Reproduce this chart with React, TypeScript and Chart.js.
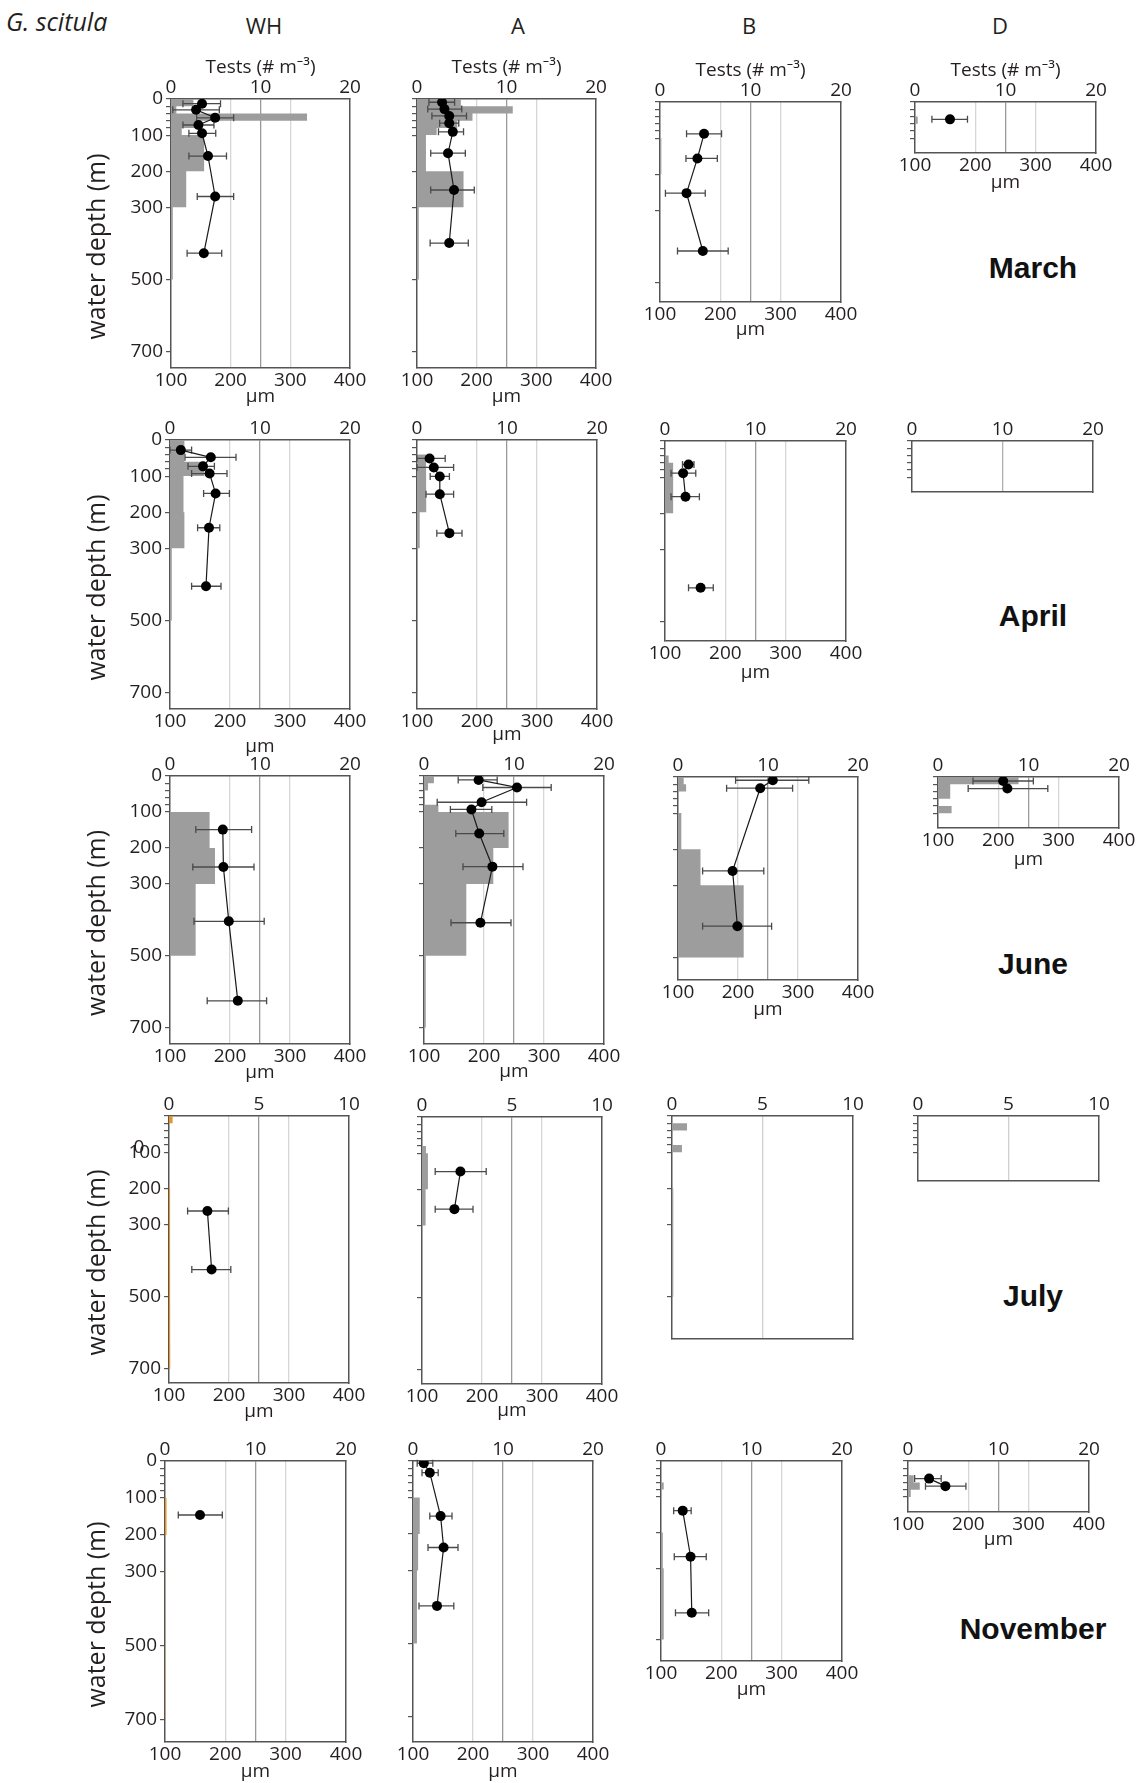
import React, { useEffect, useRef } from "react";
import { Chart, registerables } from "chart.js";

Chart.register(...registerables);

const FONT = "'Open Sans', 'Noto Sans', 'DejaVu Sans', sans-serif";
const BOLD_FONT = "'Liberation Sans', Arial, sans-serif";
const INK = "#231f20";
const FRAME = "#555555";
const GREY_BAR = "#9d9d9d";
const ORANGE_BAR = "#e0952f";

// ---- shared axes / categories ----
const DEPTH_EDGES = [0, 20, 40, 60, 80, 100, 200, 300, 500, 700];
const DEPTH_TICKS = [0, 20, 40, 60, 80, 100, 200, 300, 500, 700];
const DEPTH_LABELS = [0, 100, 200, 300, 500, 700];
const SIZE_TICKS = [100, 200, 300, 400];
const STATIONS = ["WH", "A", "B", "D"];
const MONTHS = ["March", "April", "June", "July", "November"];
const TESTS_MAX = [20, 20, 20, 10, 20];

// ---- March ----
const MAR_WH_TESTS = [2.5, 0.6, 15.2, 3.3, 1.2, 3.7, 1.7, 0.2, 0];
const MAR_WH_DEPTH = [13, 30, 52, 72, 95, 158, 270, 427];
const MAR_WH_SIZE = [152, 142, 174, 146, 152, 162, 174, 155];
const MAR_WH_LO = [120, 103, 143, 120, 130, 130, 144, 127];
const MAR_WH_HI = [183, 181, 205, 172, 175, 193, 205, 185];

const MAR_A_TESTS = [4.9, 10.7, 6.2, 4.5, 2.2, 1.0, 5.2, 0.2, 0];
const MAR_A_DEPTH = [9, 28, 47, 67, 91, 150, 252, 399];
const MAR_A_SIZE = [142, 146, 154, 154, 160, 152, 162, 154];
const MAR_A_LO = [120, 118, 125, 138, 136, 123, 123, 122];
const MAR_A_HI = [163, 175, 183, 170, 178, 181, 196, 186];

const MAR_B_TESTS = [0, 0, 0, 0, 0, 0.15, 0, 0, 0];
const MAR_B_DEPTH = [88, 156, 252, 412];
const MAR_B_SIZE = [173, 162, 144, 171];
const MAR_B_LO = [144, 143, 109, 129];
const MAR_B_HI = [202, 195, 175, 213];

const MAR_D_TESTS = [0, 0, 0.3, 0, 0, 0, 0, 0, 0];
const MAR_D_DEPTH = [48];
const MAR_D_SIZE = [158];
const MAR_D_LO = [128];
const MAR_D_HI = [187];

// ---- April ----
const APR_WH_TESTS = [1.6, 1.6, 1.6, 3.8, 3.8, 1.5, 1.6, 0.2, 0];
const APR_WH_DEPTH = [28, 48, 73, 93, 148, 243, 405];
const APR_WH_SIZE = [118, 168, 155, 166, 176, 165, 160];
const APR_WH_LO = [100, 125, 130, 136, 156, 146, 136];
const APR_WH_HI = [136, 210, 174, 195, 199, 183, 185];

const APR_A_TESTS = [0, 0, 1.0, 1.0, 1.0, 1.1, 0.3, 0.1, 0.1];
const APR_A_DEPTH = [51, 76, 101, 150, 258];
const APR_A_SIZE = [121, 128, 138, 138, 154];
const APR_A_LO = [100, 100, 122, 115, 133];
const APR_A_HI = [147, 161, 154, 161, 175];

const APR_B_TESTS = [0, 0, 0.4, 0.9, 0.9, 0.9, 0, 0.1, 0];
const APR_B_DEPTH = [65, 89, 154, 406];
const APR_B_SIZE = [139, 130, 134, 159];
const APR_B_LO = [129, 110, 110, 139];
const APR_B_HI = [148, 151, 157, 180];

const APR_D_TESTS = [0, 0, 0, 0, 0, 0, 0, 0, 0];
const APR_D_DEPTH: number[] = [];
const APR_D_SIZE: number[] = [];
const APR_D_LO: number[] = [];
const APR_D_HI: number[] = [];

// ---- June ----
const JUN_WH_TESTS = [0, 0, 0, 0, 0, 4.4, 5.0, 2.85, 0];
const JUN_WH_DEPTH = [149, 253, 404, 625];
const JUN_WH_SIZE = [188, 189, 198, 213];
const JUN_WH_LO = [143, 138, 140, 162];
const JUN_WH_HI = [236, 240, 257, 261];

const JUN_A_TESTS = [1.1, 0.45, 0.1, 0.1, 1.6, 9.4, 7.7, 4.7, 0.2];
const JUN_A_DEPTH = [11, 32, 73, 93, 160, 252, 408];
const JUN_A_SIZE = [191, 255, 196, 179, 192, 214, 194];
const JUN_A_LO = [157, 198, 122, 144, 153, 165, 145];
const JUN_A_HI = [222, 312, 271, 213, 233, 265, 245];

const JUN_B_TESTS = [0.63, 0.9, 0, 0, 0, 0.37, 2.5, 7.3, 0];
const JUN_B_DEPTH = [9, 31, 260, 413];
const JUN_B_SIZE = [258, 237, 191, 199];
const JUN_B_LO = [196, 181, 141, 141];
const JUN_B_HI = [318, 291, 243, 256];

const JUN_D_TESTS = [8.9, 1.35, 1.35, 0, 1.5, 0, 0, 0, 0];
const JUN_D_DEPTH = [11, 32];
const JUN_D_SIZE = [208, 215];
const JUN_D_LO = [158, 150];
const JUN_D_HI = [258, 282];

// ---- July ----
const JUL_WH_TESTS = [0.2, 0, 0, 0, 0, 0, 0.06, 0.06, 0.08];
const JUL_WH_DEPTH = [263, 425];
const JUL_WH_SIZE = [164, 171];
const JUL_WH_LO = [131, 138];
const JUL_WH_HI = [199, 203];

const JUL_A_TESTS = [0, 0, 0, 0, 0.22, 0.33, 0.2, 0, 0];
const JUL_A_DEPTH = [151, 255];
const JUL_A_SIZE = [164, 154];
const JUL_A_LO = [122, 122];
const JUL_A_HI = [207, 185];

const JUL_B_TESTS = [0, 0.83, 0, 0, 0.55, 0, 0.07, 0.07, 0];
const JUL_B_DEPTH: number[] = [];
const JUL_B_SIZE: number[] = [];
const JUL_B_LO: number[] = [];
const JUL_B_HI: number[] = [];

const JUL_D_TESTS = [0, 0, 0, 0, 0, 0, 0, 0, 0];
const JUL_D_DEPTH: number[] = [];
const JUL_D_SIZE: number[] = [];
const JUL_D_LO: number[] = [];
const JUL_D_HI: number[] = [];

// ---- November ----
const NOV_WH_TESTS = [0, 0, 0, 0, 0, 0.17, 0, 0.1, 0];
const NOV_WH_DEPTH = [146];
const NOV_WH_SIZE = [158];
const NOV_WH_LO = [122];
const NOV_WH_HI = [195];

const NOV_A_TESTS = [0, 0, 0, 0, 0, 0.75, 0.57, 0.44, 0];
const NOV_A_DEPTH = [6, 32, 151, 237, 397];
const NOV_A_SIZE = [118, 128, 146, 151, 140];
const NOV_A_LO = [107, 115, 128, 125, 110];
const NOV_A_HI = [133, 142, 165, 175, 168];

const NOV_B_TESTS = [0, 0, 0, 0.3, 0, 0, 0.2, 0.3, 0];
const NOV_B_DEPTH = [139, 268, 425];
const NOV_B_SIZE = [136, 149, 151];
const NOV_B_LO = [121, 122, 124];
const NOV_B_HI = [150, 175, 179];

const NOV_D_TESTS = [0, 0, 0.63, 1.3, 0.3, 0, 0, 0, 0];
const NOV_D_DEPTH = [49, 70];
const NOV_D_SIZE = [135, 162];
const NOV_D_LO = [111, 129];
const NOV_D_HI = [155, 196];

type Series = {
  tests: number[];
  depth: number[];
  size: number[];
  lo: number[];
  hi: number[];
  breakAfter?: number;
  color?: string;
};

const SERIES: Series[][] = [
  [
    { tests: MAR_WH_TESTS, depth: MAR_WH_DEPTH, size: MAR_WH_SIZE, lo: MAR_WH_LO, hi: MAR_WH_HI },
    { tests: MAR_A_TESTS, depth: MAR_A_DEPTH, size: MAR_A_SIZE, lo: MAR_A_LO, hi: MAR_A_HI },
    { tests: MAR_B_TESTS, depth: MAR_B_DEPTH, size: MAR_B_SIZE, lo: MAR_B_LO, hi: MAR_B_HI },
    { tests: MAR_D_TESTS, depth: MAR_D_DEPTH, size: MAR_D_SIZE, lo: MAR_D_LO, hi: MAR_D_HI },
  ],
  [
    { tests: APR_WH_TESTS, depth: APR_WH_DEPTH, size: APR_WH_SIZE, lo: APR_WH_LO, hi: APR_WH_HI },
    { tests: APR_A_TESTS, depth: APR_A_DEPTH, size: APR_A_SIZE, lo: APR_A_LO, hi: APR_A_HI },
    { tests: APR_B_TESTS, depth: APR_B_DEPTH, size: APR_B_SIZE, lo: APR_B_LO, hi: APR_B_HI, breakAfter: 2 },
    { tests: APR_D_TESTS, depth: APR_D_DEPTH, size: APR_D_SIZE, lo: APR_D_LO, hi: APR_D_HI },
  ],
  [
    { tests: JUN_WH_TESTS, depth: JUN_WH_DEPTH, size: JUN_WH_SIZE, lo: JUN_WH_LO, hi: JUN_WH_HI },
    { tests: JUN_A_TESTS, depth: JUN_A_DEPTH, size: JUN_A_SIZE, lo: JUN_A_LO, hi: JUN_A_HI },
    { tests: JUN_B_TESTS, depth: JUN_B_DEPTH, size: JUN_B_SIZE, lo: JUN_B_LO, hi: JUN_B_HI },
    { tests: JUN_D_TESTS, depth: JUN_D_DEPTH, size: JUN_D_SIZE, lo: JUN_D_LO, hi: JUN_D_HI },
  ],
  [
    { tests: JUL_WH_TESTS, depth: JUL_WH_DEPTH, size: JUL_WH_SIZE, lo: JUL_WH_LO, hi: JUL_WH_HI, color: ORANGE_BAR },
    { tests: JUL_A_TESTS, depth: JUL_A_DEPTH, size: JUL_A_SIZE, lo: JUL_A_LO, hi: JUL_A_HI },
    { tests: JUL_B_TESTS, depth: JUL_B_DEPTH, size: JUL_B_SIZE, lo: JUL_B_LO, hi: JUL_B_HI },
    { tests: JUL_D_TESTS, depth: JUL_D_DEPTH, size: JUL_D_SIZE, lo: JUL_D_LO, hi: JUL_D_HI },
  ],
  [
    { tests: NOV_WH_TESTS, depth: NOV_WH_DEPTH, size: NOV_WH_SIZE, lo: NOV_WH_LO, hi: NOV_WH_HI, color: ORANGE_BAR },
    { tests: NOV_A_TESTS, depth: NOV_A_DEPTH, size: NOV_A_SIZE, lo: NOV_A_LO, hi: NOV_A_HI },
    { tests: NOV_B_TESTS, depth: NOV_B_DEPTH, size: NOV_B_SIZE, lo: NOV_B_LO, hi: NOV_B_HI },
    { tests: NOV_D_TESTS, depth: NOV_D_DEPTH, size: NOV_D_SIZE, lo: NOV_D_LO, hi: NOV_D_HI },
  ],
];

// ---- layout (page pixels): [plotLeft, plotTop, plotWidth, plotHeight, depthMax, topAxisBox, bottomAxisBox]
const FRAMES: number[][][] = [
  [[171, 99, 179, 269, 745, 43, 40], [417, 99, 179, 269, 745, 43, 40], [660, 102, 181, 200, 553, 43, 39], [915, 102, 181, 51, 141, 43, 41]],
  [[170, 440, 180, 269, 745, 28, 49], [417, 440, 180, 269, 745, 28, 37], [665, 441, 181, 200, 553, 28, 43], [912, 441, 181, 51, 141, 28, 4]],
  [[170, 776, 180, 268, 745, 28, 40], [424, 776, 180, 268, 745, 28, 39], [678, 777, 180, 203, 562, 28, 41], [938, 777, 181, 51, 141, 28, 43]],
  [[169, 1116, 180, 267, 739, 28, 40], [422, 1117, 180, 267, 739, 28, 38], [672, 1116, 181, 223, 617, 28, 4], [918, 1116, 181, 65, 180, 28, 4]],
  [[165, 1461, 181, 281, 760, 28, 41], [413, 1461, 180, 281, 770, 28, 41], [661, 1461, 181, 200, 560, 28, 40], [908, 1461, 181, 51, 142, 28, 39]],
];
const HEADER_X = [264, 518, 749, 1000];
const MONTH_Y = [267, 615, 963, 1295, 1628];
const YTITLE_X = 98;
const PAD = 24;
const TICK_SIZE = 19;
const YTITLE_SIZE = 25;

function Panel({ row, col }: { row: number; col: number }) {
  const ref = useRef<HTMLCanvasElement | null>(null);
  const s = SERIES[row][col];
  const [left, top, w, h, depthMax, T, B] = FRAMES[row][col];
  const L = col === 0 ? Math.round(left - (YTITLE_X - YTITLE_SIZE * 0.6)) : 6;
  const W = PAD + L + w + PAD;
  const H = T + h + B;
  const showXb = B > 10;
  const testsMax = TESTS_MAX[row];
  const hideZero = row === 3 && col === 0;
  let midGrid = "#9a9a9a";
  if (row === 3 && col >= 2) midGrid = "#cfcfcf";
  if (row === 1 && col === 3) midGrid = "#b0b0b0";

  useEffect(() => {
    const canvas = ref.current;
    if (!canvas) return;
    const histPts: { x: number; y: number }[] = [];
    s.tests.forEach((v, i) => {
      histPts.push({ x: v, y: DEPTH_EDGES[i] });
      histPts.push({ x: v, y: DEPTH_EDGES[i + 1] });
    });
    const sizePts: { x: number | null; y: number }[] = [];
    s.depth.forEach((d, i) => {
      sizePts.push({ x: s.size[i], y: d });
      if (s.breakAfter === i && i + 1 < s.depth.length) {
        sizePts.push({ x: null, y: (d + s.depth[i + 1]) / 2 });
      }
    });
    const errPlugin = {
      id: "errbars",
      beforeDatasetDraw(chart: any, args: any) {
        if (args.index !== 1) return;
        const ctx = chart.ctx;
        const xs = chart.scales.xb;
        const ys = chart.scales.y;
        ctx.save();
        ctx.strokeStyle = "#4a4a4a";
        ctx.lineWidth = 1.3;
        s.depth.forEach((d, i) => {
          const y = ys.getPixelForValue(d);
          const x1 = xs.getPixelForValue(s.lo[i]);
          const x2 = xs.getPixelForValue(s.hi[i]);
          ctx.beginPath();
          ctx.moveTo(x1, y);
          ctx.lineTo(x2, y);
          ctx.moveTo(x1, y - 3.5);
          ctx.lineTo(x1, y + 3.5);
          ctx.moveTo(x2, y - 3.5);
          ctx.lineTo(x2, y + 3.5);
          ctx.stroke();
        });
        ctx.restore();
      },
    };
    const tickFont = { family: FONT, size: TICK_SIZE };
    const chart = new Chart(canvas, {
      type: "line",
      data: {
        datasets: [
          {
            data: histPts as any,
            xAxisID: "xt",
            yAxisID: "y",
            fill: "origin",
            backgroundColor: s.color || GREY_BAR,
            borderColor: "rgba(0,0,0,0)",
            borderWidth: 0,
            pointRadius: 0,
            tension: 0,
            order: 2,
          },
          {
            data: sizePts as any,
            xAxisID: "xb",
            yAxisID: "y",
            fill: false,
            borderColor: "#1a1a1a",
            borderWidth: 1.2,
            pointRadius: 5,
            pointBackgroundColor: "#000",
            pointBorderColor: "#000",
            pointBorderWidth: 0,
            spanGaps: false,
            tension: 0,
            order: 1,
          },
        ],
      },
      options: {
        indexAxis: "y",
        animation: false,
        responsive: false,
        events: [],
        layout: { padding: { left: PAD, right: PAD, top: 0, bottom: 0 } },
        plugins: { legend: { display: false }, tooltip: { enabled: false } },
        scales: {
          y: {
            type: "linear",
            position: "left",
            reverse: true,
            min: 0,
            max: depthMax,
            afterBuildTicks: (sc: any) => {
              sc.ticks = DEPTH_TICKS.filter((v) => v <= sc.max).map((v) => ({ value: v }));
            },
            afterFit: (sc: any) => {
              sc.width = L;
            },
            ticks: {
              display: col === 0,
              autoSkip: false,
              padding: 3,
              color: INK,
              font: tickFont,
              callback: (v: any) =>
                DEPTH_LABELS.includes(v) && !(hideZero && v === 0) ? String(v) : "",
            },
            grid: { display: true, drawOnChartArea: false, drawTicks: true, tickLength: 5, color: FRAME, lineWidth: 1.2 },
            border: { display: true, color: FRAME, width: 1.5 },
            title: {
              display: col === 0,
              text: "water depth (m)    ",
              color: INK,
              font: { family: FONT, size: YTITLE_SIZE },
              padding: 0,
            },
          },
          yr: {
            type: "linear",
            position: "right",
            display: true,
            afterFit: (sc: any) => {
              sc.width = 0;
            },
            ticks: { display: false },
            grid: { display: false, drawTicks: false },
            border: { display: true, color: FRAME, width: 1.5 },
          },
          xt: {
            type: "linear",
            position: "top",
            min: 0,
            max: testsMax,
            afterFit: (sc: any) => {
              sc.height = T;
            },
            ticks: { stepSize: testsMax / 2, autoSkip: false, maxRotation: 0, padding: 0, color: INK, font: tickFont },
            grid: {
              drawTicks: false,
              lineWidth: 1.3,
              color: (c: any) => (c.tick && c.tick.value === testsMax / 2 ? midGrid : "rgba(0,0,0,0)"),
            },
            border: { display: true, color: FRAME, width: 1.5 },
            title: { display: row === 0, text: "Tests (# m⁻³)", padding: 0, color: INK, font: tickFont },
          },
          xb: {
            type: "linear",
            position: "bottom",
            min: SIZE_TICKS[0],
            max: SIZE_TICKS[SIZE_TICKS.length - 1],
            afterBuildTicks: (sc: any) => {
              sc.ticks = SIZE_TICKS.map((v) => ({ value: v }));
            },
            afterFit: (sc: any) => {
              sc.height = B;
            },
            ticks: { display: showXb, autoSkip: false, maxRotation: 0, padding: 1.5, color: INK, font: tickFont },
            grid: {
              display: showXb,
              drawTicks: false,
              lineWidth: 1.3,
              color: (c: any) =>
                c.tick && (c.tick.value === 200 || c.tick.value === 300) ? "#d6d6d6" : "rgba(0,0,0,0)",
            },
            border: { display: true, color: FRAME, width: 1.5 },
            title: { display: showXb, text: "µm", padding: 0, color: INK, font: tickFont },
          },
        },
      } as any,
      plugins: [errPlugin as any],
    });
    return () => chart.destroy();
  }, []);

  return (
    <canvas
      ref={ref}
      width={W}
      height={H}
      style={{ position: "absolute", left: left - L - PAD, top: top - T, width: W, height: H }}
    />
  );
}

function Text({ x, y, children, style }: { x: number; y: number; children: React.ReactNode; style?: React.CSSProperties }) {
  return (
    <div
      style={{
        position: "absolute",
        left: x,
        top: y,
        transform: "translate(-50%, -50%)",
        whiteSpace: "nowrap",
        lineHeight: 1,
        color: INK,
        ...style,
      }}
    >
      {children}
    </div>
  );
}

export default function App() {
  return (
    <div
      style={{
        position: "absolute",
        left: 0,
        top: 0,
        width: 1143,
        height: 1783,
        background: "#ffffff",
        overflow: "hidden",
        fontFamily: FONT,
      }}
    >
      <div
        style={{
          position: "absolute",
          left: 6,
          top: 9,
          fontFamily: FONT,
          fontStyle: "italic",
          fontSize: 25,
          lineHeight: 1,
          color: INK,
          whiteSpace: "nowrap",
        }}
      >
        G. scitula
      </div>
      {STATIONS.map((st, i) => (
        <Text key={st} x={HEADER_X[i]} y={25} style={{ fontSize: 22, fontFamily: FONT }}>
          {st}
        </Text>
      ))}
      {SERIES.map((rowSeries, r) =>
        rowSeries.map((_, c) => <Panel key={`${r}-${c}`} row={r} col={c} />)
      )}
      {MONTHS.map((m, i) => (
        <Text
          key={m}
          x={1033}
          y={MONTH_Y[i] + 1}
          style={{ fontSize: 30, fontWeight: 700, fontFamily: BOLD_FONT, color: "#111" }}
        >
          {m}
        </Text>
      ))}
      <Text x={139} y={1146} style={{ fontSize: TICK_SIZE, fontFamily: FONT }}>
        0
      </Text>
    </div>
  );
}
